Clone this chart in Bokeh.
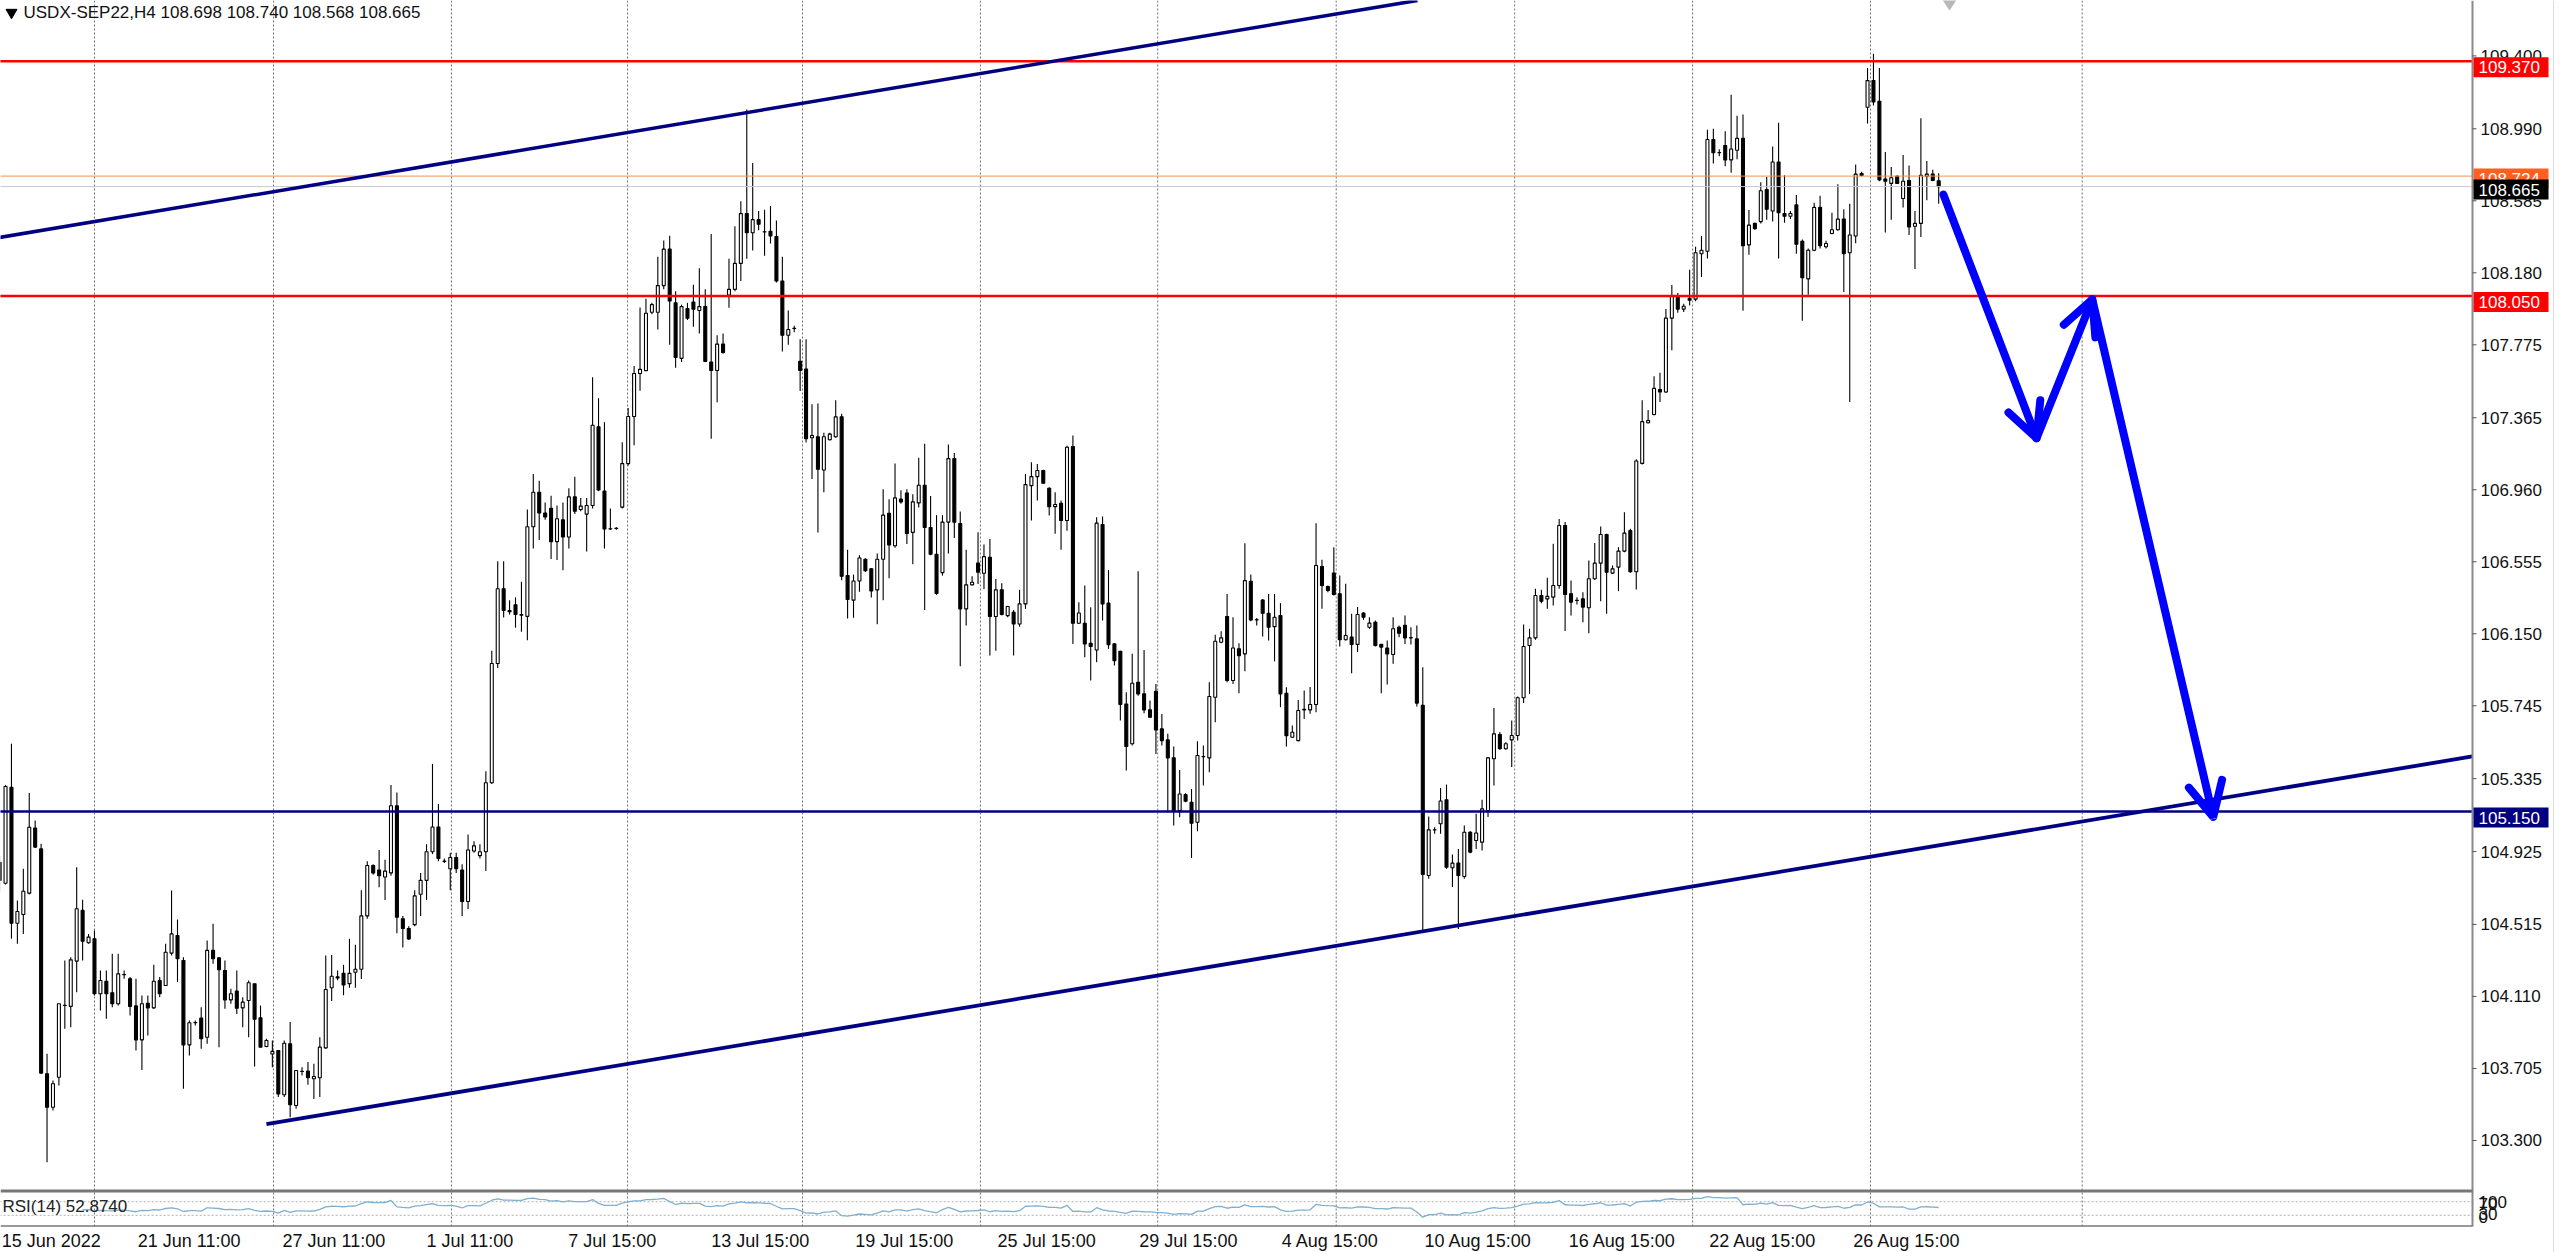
import numpy as np
from bokeh.plotting import figure
from bokeh.models import Range1d, ColumnDataSource, Arrow, OpenHead
from bokeh.core.properties import value
from bokeh.embed import file_html
from bokeh.resources import INLINE

# ---------------- data ----------------
chart_title = "USDX-SEP22,H4  108.698 108.740 108.568 108.665"

opens = [
    104.865, 104.747, 105.287, 104.522, 104.571, 104.691, 105.057, 104.940, 103.675, 103.487,
    103.656, 104.061, 104.054, 104.309, 104.594, 104.412, 104.434, 104.125, 104.196, 104.131,
    104.069, 104.233, 104.209, 104.057, 103.866, 104.072, 104.046, 104.200, 104.172, 104.354,
    104.453, 104.312, 103.838, 103.963, 103.988, 103.881, 104.369, 104.327, 104.256, 104.091,
    104.140, 104.046, 104.087, 104.181, 103.990, 103.829, 103.786, 103.806, 103.557, 103.844,
    103.497, 103.689, 103.690, 103.647, 103.653, 103.821, 104.159, 104.220, 104.240, 104.182,
    104.246, 104.263, 104.563, 104.847, 104.821, 104.782, 104.805, 105.183, 104.547, 104.492,
    104.514, 104.685, 104.763, 104.924, 105.063, 104.871, 104.828, 104.892, 104.821, 104.644,
    104.928, 104.902, 104.924, 105.312, 105.983, 106.403, 106.280, 106.313, 106.258, 106.248,
    106.752, 106.946, 106.829, 106.855, 106.668, 106.791, 106.694, 106.920, 106.849, 106.823,
    106.871, 107.314, 106.952, 106.740, 106.743, 106.862, 107.107, 107.372, 107.614, 107.630,
    107.958, 107.958, 108.108, 108.313, 108.011, 107.699, 107.979, 108.016, 107.968, 107.990,
    107.678, 107.631, 107.779, 108.055, 108.087, 108.233, 108.513, 108.405, 108.479, 108.411,
    108.414, 108.384, 108.134, 107.829, 107.868, 107.682, 107.639, 107.252, 107.258, 107.071,
    107.241, 107.258, 107.370, 106.477, 106.339, 106.447, 106.569, 106.516, 106.397, 106.569,
    106.828, 106.645, 106.907, 106.942, 106.720, 106.886, 106.985, 106.748, 106.597, 106.494,
    106.778, 107.135, 106.770, 106.290, 106.425, 106.547, 106.490, 106.580, 106.247, 106.397,
    106.252, 106.271, 106.205, 106.318, 106.983, 107.034, 107.068, 106.968, 106.865, 106.884,
    106.787, 107.203, 106.209, 106.209, 106.097, 106.059, 106.764, 106.322, 106.093, 106.052,
    105.755, 105.531, 105.877, 105.812, 105.722, 105.827, 105.615, 105.553, 105.452, 105.156,
    105.245, 105.202, 105.090, 105.460, 105.452, 105.793, 106.102, 106.247, 105.887, 106.065,
    106.037, 106.445, 106.229, 106.340, 106.265, 106.190, 106.252, 105.815, 105.568, 105.549,
    105.722, 105.722, 105.752, 106.528, 106.416, 106.491, 106.375, 106.116, 106.131, 106.090,
    106.266, 106.187, 106.215, 106.090, 106.069, 106.033, 106.187, 106.197, 106.128, 106.121,
    105.747, 104.790, 105.048, 105.081, 105.216, 104.834, 104.860, 104.785, 105.034, 104.987,
    104.978, 105.156, 105.447, 105.583, 105.503, 105.553, 105.578, 105.790, 106.084, 106.127,
    106.365, 106.346, 106.356, 106.421, 106.759, 106.375, 106.338, 106.346, 106.296, 106.459,
    106.547, 106.708, 106.491, 106.525, 106.615, 106.730, 106.499, 107.108, 107.337, 107.383,
    107.524, 107.510, 107.925, 108.052, 107.976, 108.036, 108.032, 108.287, 108.301, 108.930,
    108.856, 108.896, 108.815, 108.869, 108.936, 108.337, 108.458, 108.468, 108.649, 108.528,
    108.803, 108.514, 108.498, 108.562, 108.357, 108.146, 108.307, 108.548, 108.327, 108.401,
    108.422, 108.482, 108.293, 108.387, 108.739, 109.111, 109.261, 109.145, 108.707, 108.683,
    108.723, 108.598, 108.699, 108.442, 108.458, 108.723, 108.735, 108.698,
]

highs = [
    104.900, 105.300, 105.531, 104.650, 104.828, 105.255, 105.100, 104.969, 103.788, 103.638,
    104.069, 104.312, 104.331, 104.837, 104.654, 104.462, 104.481, 104.256, 104.256, 104.350,
    104.350, 104.256, 104.219, 104.209, 104.115, 104.115, 104.288, 104.219, 104.406, 104.706,
    104.543, 104.331, 103.975, 103.975, 104.050, 104.425, 104.519, 104.331, 104.312, 104.153,
    104.256, 104.106, 104.200, 104.181, 104.059, 103.872, 103.862, 103.806, 103.862, 103.966,
    103.694, 103.712, 103.741, 103.731, 103.881, 104.340, 104.343, 104.256, 104.288, 104.434,
    104.401, 104.708, 104.870, 104.853, 104.934, 104.879, 105.299, 105.257, 104.563, 104.505,
    104.708, 104.805, 104.966, 105.418, 105.192, 104.886, 104.918, 104.918, 104.853, 105.021,
    104.983, 104.966, 105.376, 106.055, 106.558, 106.558, 106.339, 106.355, 106.442, 106.849,
    107.049, 107.010, 106.888, 106.926, 106.871, 106.888, 106.968, 107.033, 106.913, 106.913,
    107.592, 107.475, 107.340, 106.855, 106.750, 107.227, 107.420, 107.656, 107.985, 108.034,
    108.011, 108.270, 108.362, 108.388, 108.076, 108.001, 108.011, 108.113, 108.205, 108.087,
    108.399, 107.829, 107.839, 108.259, 108.442, 108.582, 109.098, 108.797, 108.528, 108.535,
    108.556, 108.474, 108.270, 107.968, 107.882, 107.807, 107.807, 107.441, 107.445, 107.280,
    107.280, 107.463, 107.387, 106.623, 106.483, 106.591, 106.574, 106.520, 106.602, 106.963,
    106.907, 107.107, 106.957, 106.963, 106.935, 107.140, 107.219, 106.925, 106.817, 106.817,
    107.215, 107.166, 106.838, 106.623, 106.473, 106.721, 106.652, 106.683, 106.458, 106.434,
    106.308, 106.284, 106.397, 107.049, 107.115, 107.105, 107.072, 106.974, 106.946, 106.899,
    107.208, 107.265, 106.327, 106.421, 106.299, 106.805, 106.809, 106.509, 106.097, 106.055,
    105.821, 106.037, 106.502, 106.059, 105.774, 105.868, 105.699, 105.587, 105.516, 105.384,
    105.253, 105.277, 105.546, 105.521, 105.877, 106.145, 106.164, 106.374, 106.243, 106.097,
    106.659, 106.483, 106.239, 106.346, 106.374, 106.374, 106.322, 105.849, 105.634, 105.778,
    105.831, 105.850, 106.772, 106.566, 106.421, 106.637, 106.478, 106.431, 106.262, 106.300,
    106.271, 106.243, 106.225, 106.093, 106.112, 106.243, 106.197, 106.253, 106.187, 106.197,
    105.962, 105.122, 105.062, 105.283, 105.302, 104.909, 104.940, 105.072, 105.040, 105.137,
    105.216, 105.456, 105.733, 105.597, 105.540, 105.662, 105.797, 106.202, 106.178, 106.403,
    106.397, 106.465, 106.656, 106.796, 106.778, 106.450, 106.356, 106.384, 106.562, 106.660,
    106.753, 106.712, 106.534, 106.637, 106.834, 106.740, 107.132, 107.463, 107.409, 107.598,
    107.618, 107.976, 108.112, 108.066, 108.006, 108.197, 108.327, 108.387, 108.984, 108.990,
    108.875, 108.976, 109.181, 109.064, 109.070, 108.534, 108.462, 108.689, 108.719, 108.890,
    109.024, 108.729, 108.528, 108.618, 108.367, 108.317, 108.574, 108.614, 108.361, 108.518,
    108.678, 108.538, 108.568, 108.789, 108.749, 109.332, 109.412, 109.332, 108.859, 108.775,
    108.729, 108.843, 108.783, 108.528, 109.050, 108.809, 108.759, 108.740,
]

lows = [
    104.700, 104.740, 104.434, 104.406, 104.462, 104.684, 104.945, 103.675, 103.178, 103.469,
    103.609, 103.928, 103.937, 104.134, 104.312, 104.406, 104.115, 104.031, 103.984, 104.050,
    104.059, 104.209, 104.003, 103.806, 103.697, 103.891, 104.041, 104.106, 104.172, 104.340,
    104.191, 103.591, 103.778, 103.947, 103.816, 103.844, 104.294, 103.825, 104.041, 104.069,
    104.012, 103.937, 103.881, 103.716, 103.825, 103.825, 103.712, 103.544, 103.544, 103.431,
    103.478, 103.666, 103.613, 103.534, 103.544, 103.816, 104.085, 104.201, 104.117, 104.159,
    104.159, 104.208, 104.547, 104.795, 104.724, 104.653, 104.789, 104.466, 104.385, 104.427,
    104.505, 104.563, 104.653, 104.911, 104.870, 104.860, 104.708, 104.805, 104.563, 104.602,
    104.918, 104.886, 104.815, 105.305, 105.958, 106.242, 106.258, 106.184, 106.161, 106.113,
    106.629, 106.678, 106.791, 106.571, 106.565, 106.507, 106.629, 106.823, 106.839, 106.613,
    106.855, 106.952, 106.629, 106.733, 106.735, 106.855, 107.097, 107.210, 107.517, 107.630,
    107.947, 107.861, 108.087, 107.775, 107.646, 107.678, 107.915, 107.876, 107.839, 107.678,
    107.247, 107.452, 107.725, 107.984, 108.076, 108.134, 108.259, 108.306, 108.420, 108.276,
    108.345, 108.126, 107.738, 107.775, 107.846, 107.516, 107.226, 107.021, 106.720, 106.946,
    107.237, 107.252, 106.451, 106.236, 106.240, 106.386, 106.498, 106.354, 106.203, 106.339,
    106.462, 106.634, 106.881, 106.655, 106.541, 106.860, 106.283, 106.591, 106.369, 106.477,
    106.602, 106.688, 105.967, 106.197, 106.425, 106.430, 106.402, 106.027, 106.055, 106.252,
    106.243, 106.027, 106.190, 106.290, 106.787, 106.899, 106.993, 106.815, 106.712, 106.622,
    106.730, 106.093, 106.205, 106.018, 105.887, 105.990, 106.224, 106.065, 105.971, 105.662,
    105.381, 105.521, 105.802, 105.703, 105.677, 105.474, 105.521, 105.146, 105.071, 105.118,
    105.202, 104.889, 105.039, 105.296, 105.371, 105.652, 106.097, 105.877, 105.868, 105.815,
    105.939, 106.220, 106.196, 106.134, 106.112, 105.995, 105.737, 105.516, 105.564, 105.546,
    105.671, 105.700, 105.709, 106.290, 106.384, 106.365, 106.078, 106.112, 105.928, 106.047,
    106.228, 106.178, 106.078, 105.816, 105.865, 105.981, 106.131, 106.093, 106.090, 105.741,
    104.481, 104.772, 105.025, 105.025, 104.828, 104.725, 104.490, 104.772, 104.916, 104.940,
    104.931, 105.119, 105.297, 105.497, 105.497, 105.400, 105.550, 105.760, 105.812, 106.116,
    106.322, 106.290, 106.309, 106.403, 106.165, 106.253, 106.315, 106.215, 106.153, 106.453,
    106.333, 106.262, 106.487, 106.390, 106.609, 106.493, 106.399, 107.102, 107.333, 107.377,
    107.453, 107.504, 107.745, 107.956, 107.960, 107.996, 108.020, 108.156, 108.261, 108.795,
    108.835, 108.779, 108.743, 108.819, 107.966, 108.281, 108.422, 108.458, 108.478, 108.468,
    108.261, 108.462, 108.482, 108.287, 107.911, 108.056, 108.301, 108.317, 108.317, 108.397,
    108.417, 108.072, 107.453, 108.347, 108.723, 109.020, 109.121, 108.695, 108.407, 108.478,
    108.679, 108.548, 108.393, 108.201, 108.381, 108.588, 108.695, 108.568,
]

closes = [
    104.762, 105.291, 104.522, 104.588, 104.702, 105.062, 104.950, 103.679, 103.487, 103.619,
    104.069, 104.059, 104.316, 104.603, 104.421, 104.444, 104.125, 104.200, 104.125, 104.069,
    104.237, 104.232, 104.054, 103.866, 104.069, 104.046, 104.196, 104.125, 104.359, 104.462,
    104.322, 103.838, 103.962, 103.962, 103.872, 104.369, 104.322, 104.260, 104.091, 104.125,
    104.044, 104.078, 104.187, 103.982, 103.825, 103.862, 103.801, 103.562, 103.847, 103.501,
    103.694, 103.688, 103.653, 103.660, 103.825, 104.149, 104.224, 104.214, 104.175, 104.240,
    104.263, 104.563, 104.847, 104.805, 104.789, 104.815, 105.183, 104.556, 104.492, 104.434,
    104.676, 104.763, 104.924, 105.063, 104.886, 104.870, 104.892, 104.828, 104.644, 104.934,
    104.957, 104.924, 105.312, 105.983, 106.403, 106.281, 106.274, 106.258, 106.255, 106.752,
    106.946, 106.829, 106.807, 106.668, 106.797, 106.694, 106.920, 106.839, 106.868, 106.871,
    107.323, 106.959, 106.739, 106.739, 106.742, 107.107, 107.372, 107.614, 107.637, 107.953,
    108.001, 108.108, 108.313, 108.022, 107.704, 107.990, 107.925, 107.975, 107.990, 107.682,
    107.631, 107.779, 107.732, 108.087, 108.233, 108.513, 108.405, 108.479, 108.453, 108.410,
    108.388, 108.134, 107.829, 107.861, 107.867, 107.631, 107.247, 107.265, 107.075, 107.258,
    107.273, 107.370, 106.473, 106.343, 106.447, 106.576, 106.505, 106.391, 106.569, 106.817,
    106.649, 106.914, 106.892, 106.714, 106.892, 106.985, 106.748, 106.597, 106.376, 106.778,
    107.135, 106.778, 106.290, 106.425, 106.440, 106.496, 106.584, 106.247, 106.397, 106.258,
    106.303, 106.205, 106.318, 106.989, 107.034, 107.068, 106.997, 106.865, 106.877, 106.787,
    107.199, 106.209, 106.267, 106.093, 106.078, 106.772, 106.318, 106.089, 105.999, 105.752,
    105.516, 105.872, 105.812, 105.722, 105.680, 105.609, 105.549, 105.452, 105.152, 105.249,
    105.208, 105.084, 105.465, 105.459, 105.797, 106.108, 106.127, 105.887, 106.070, 106.027,
    106.449, 106.228, 106.228, 106.265, 106.187, 106.243, 105.812, 105.577, 105.596, 105.718,
    105.725, 105.752, 106.534, 106.421, 106.393, 106.371, 106.116, 106.140, 106.090, 106.258,
    106.243, 106.210, 106.084, 106.075, 106.037, 106.178, 106.153, 106.127, 106.127, 105.760,
    104.796, 105.047, 105.047, 105.209, 104.837, 104.860, 104.790, 105.034, 104.922, 105.029,
    105.165, 105.452, 105.587, 105.503, 105.531, 105.578, 105.790, 106.078, 106.127, 106.365,
    106.333, 106.360, 106.421, 106.759, 106.371, 106.328, 106.337, 106.300, 106.459, 106.547,
    106.708, 106.496, 106.515, 106.615, 106.716, 106.499, 107.122, 107.343, 107.349, 107.530,
    107.510, 107.925, 108.052, 107.976, 107.992, 108.026, 108.293, 108.307, 108.930, 108.855,
    108.855, 108.815, 108.876, 108.936, 108.333, 108.448, 108.428, 108.642, 108.538, 108.803,
    108.518, 108.498, 108.514, 108.341, 108.152, 108.307, 108.548, 108.333, 108.345, 108.422,
    108.482, 108.287, 108.393, 108.735, 108.727, 109.261, 109.141, 108.703, 108.695, 108.715,
    108.683, 108.695, 108.438, 108.458, 108.729, 108.735, 108.699, 108.665,
]

price_ticks = [103.300, 103.705, 104.110, 104.515, 104.925, 105.335, 105.745, 106.150,
               106.555, 106.960, 107.365, 107.775, 108.180, 108.585, 108.990, 109.400]

time_labels = ["15 Jun 2022", "21 Jun 11:00", "27 Jun 11:00", "1 Jul 11:00", "7 Jul 15:00",
               "13 Jul 15:00", "19 Jul 15:00", "25 Jul 15:00", "29 Jul 15:00", "4 Aug 15:00",
               "10 Aug 15:00", "16 Aug 15:00", "22 Aug 15:00", "26 Aug 15:00"]
time_label_bars = [0.35, 23.3, 47.7, 72.0, 95.9, 120.0, 144.3, 168.3, 192.2, 216.2,
                   240.3, 264.6, 288.3, 312.6]
grid_bars = [16.0, 46.2, 76.2, 105.9, 135.4, 165.4, 195.3, 225.4, 255.5, 285.5, 315.5, 351.2]

level_prices = [109.370, 108.050, 105.150]
level_colors = ["#FF0000", "#FF0000", "#000080"]
ask_price = 108.724
bid_price = 108.665

upper_trend_x = [0.0, 239.1]
upper_trend_y = [108.379, 109.712]
lower_trend_x = [45.0, 417.0]
lower_trend_y = [103.392, 105.460]

forecast_x = [327.8, 343.5, 352.9, 373.3]
forecast_y = [108.620, 107.250, 108.030, 105.120]

rsi_period = 14
rsi_text = "RSI(14) 52.8740"
rsi_levels = [70, 30]
rsi_scale_labels = ["100", "70", "30", "0"]

# ---------------- layout constants (page pixels) ----------------
W, H = 2560, 1252
AXIS_X = 2472          # price axis line (page px)
AXIS_BAR = 417.0       # same position in bar units
FONT = value("Liberation Sans")

p = figure(width=W, height=H, x_range=Range1d(0.152, 431.86),
           y_range=Range1d(102.670, 109.7116),
           x_axis_location=None, y_axis_location=None,
           toolbar_location=None, output_backend="svg", min_border=0,
           outline_line_color=None, background_fill_color="white",
           border_fill_color="white")
p.extra_x_ranges = {"px": Range1d(0, W)}
p.extra_y_ranges = {"py": Range1d(H, 0), "rsi": Range1d(-79.41, 3602.94)}
p.xgrid.visible = False
p.ygrid.visible = False

# vertical dotted grid
ng = len(grid_bars)
p.segment(x0=grid_bars, y0=[0] * ng, x1=grid_bars, y1=[1228] * ng, y_range_name="py",
          line_color="#707070", line_dash="2 2", line_width=1)

# RSI panel
cl = np.array(closes)
d = np.diff(cl)
gains = np.clip(d, 0, None)
losses = np.clip(-d, 0, None)
ag = gains[:rsi_period].mean()
al = losses[:rsi_period].mean()
rsi_vals = [np.nan] * rsi_period + [100 - 100 / (1 + ag / al)]
for k in range(rsi_period, len(d)):
    ag = (ag * (rsi_period - 1) + gains[k]) / rsi_period
    al = (al * (rsi_period - 1) + losses[k]) / rsi_period
    rsi_vals.append(100 - 100 / (1 + ag / al) if al > 0 else 100.0)
idx = list(range(len(closes)))

p.segment(x0=[0] * 2, y0=rsi_levels, x1=[AXIS_BAR] * 2, y1=rsi_levels, y_range_name="rsi",
          line_color="#b0b0b0", line_dash="2 2", line_width=1)
p.line(x=idx, y=rsi_vals, y_range_name="rsi", line_color="#7fb0cf", line_width=1.3)

# candles
o = np.array(opens); c = np.array(closes)
src = ColumnDataSource(dict(
    x=idx, h=highs, l=lows,
    top=np.maximum(o, c), bottom=np.minimum(o, c),
    fill=["white" if cc >= oo else "black" for oo, cc in zip(opens, closes)],
))
p.segment(x0="x", y0="l", x1="x", y1="h", source=src, line_color="black", line_width=1.1)
p.vbar(x="x", width=0.5, top="top", bottom="bottom", source=src,
       fill_color="fill", line_color="black", line_width=1.1)

# bid / ask lines
p.segment(x0=[0], y0=[ask_price], x1=[AXIS_BAR], y1=[ask_price],
          line_color="#EE9060", line_width=1)
p.segment(x0=[0], y0=[bid_price], x1=[AXIS_BAR], y1=[bid_price],
          line_color="#C8C8D4", line_width=1)

# horizontal levels
nl = len(level_prices)
p.segment(x0=[0] * nl, y0=level_prices, x1=[AXIS_BAR] * nl, y1=level_prices,
          line_color=level_colors, line_width=2.6)

# channel trend lines
p.line(upper_trend_x, upper_trend_y, line_color="#000080", line_width=3.5)
p.line(lower_trend_x, lower_trend_y, line_color="#000080", line_width=3.8)

# forecast arrows
BLUE = "#0000FF"
arrow_src = ColumnDataSource(dict(x0=forecast_x[:-1], y0=forecast_y[:-1],
                                  x1=forecast_x[1:], y1=forecast_y[1:]))
p.add_layout(Arrow(end=OpenHead(size=34, line_color=BLUE, line_width=8, line_cap="round"),
                   x_start="x0", y_start="y0", x_end="x1", y_end="y1", source=arrow_src,
                   line_color=BLUE, line_width=8, line_cap="round"))

# gray marker at top
p.scatter(x=[1949], y=[-2], x_range_name="px", y_range_name="py", marker="diamond",
          size=24, fill_color="#b8b8b8", line_color=None)

# panel borders
p.segment(x0=[AXIS_X], y0=[0], x1=[AXIS_X], y1=[1226], x_range_name="px", y_range_name="py",
          line_color="#8a8a8a", line_width=2)
p.segment(x0=[0, 0], y0=[1190.5, 1225.5], x1=[AXIS_X, AXIS_X], y1=[1190.5, 1225.5],
          x_range_name="px", y_range_name="py", line_color="#777777", line_width=[3, 1.5])
p.segment(x0=[2553], y0=[0], x1=[2553], y1=[H], x_range_name="px", y_range_name="py",
          line_color="#dcdcdc", line_width=1)

# price scale
nt = len(price_ticks)
p.segment(x0=[AXIS_X] * nt, y0=price_ticks, x1=[AXIS_X + 4] * nt, y1=price_ticks,
          x_range_name="px", line_color="#555555", line_width=1)
p.text(x=[2480] * nt, y=price_ticks, text=[f"{v:.3f}" for v in price_ticks],
       x_range_name="px", text_font=FONT, text_font_size="17px", text_color="#111111",
       text_align="left", text_baseline="middle")

# price boxes: levels, ask, bid
def price_box(price, fill, txt_color, shift):
    yc = price - shift
    p.rect(x=[2510.5], y=[yc], width=[75], height=[20], height_units="screen",
           x_range_name="px", fill_color=fill, line_color=None)
    p.text(x=[2478], y=[yc], text=[f"{price:.3f}"], x_range_name="px", text_font=FONT,
           text_font_size="17px", text_color=txt_color, text_align="left",
           text_baseline="middle")

for lp, lc in zip(level_prices, level_colors):
    price_box(lp, lc, "white", 0.034)
price_box(ask_price, "#FF6020", "white", 0.014)
price_box(bid_price, "black", "white", 0.017)

# RSI scale labels
p.text(x=[2478] * 4, y=[1201, 1203, 1213, 1216], text=rsi_scale_labels,
       x_range_name="px", y_range_name="py", text_font=FONT, text_font_size="17px",
       text_color="#111111", text_align="left", text_baseline="middle")

# RSI caption
p.text(x=[2], y=[1206], text=[rsi_text], x_range_name="px", y_range_name="py",
       text_font=FONT, text_font_size="17px", text_color="#222222",
       text_align="left", text_baseline="middle")

# time labels
p.text(x=time_label_bars, y=[1240] * len(time_labels), text=time_labels, y_range_name="py",
       text_font=FONT, text_font_size="18px", text_color="#111111",
       text_align="left", text_baseline="middle")

# title
p.scatter(x=[11], y=[12], x_range_name="px", y_range_name="py", marker="inverted_triangle",
          size=11, fill_color="black", line_color="black")
p.text(x=[23], y=[12], text=[chart_title], x_range_name="px", y_range_name="py",
       text_font=FONT, text_font_size="17px", text_color="#111111",
       text_align="left", text_baseline="middle")

open("out.html", "w").write(file_html(p, INLINE))
